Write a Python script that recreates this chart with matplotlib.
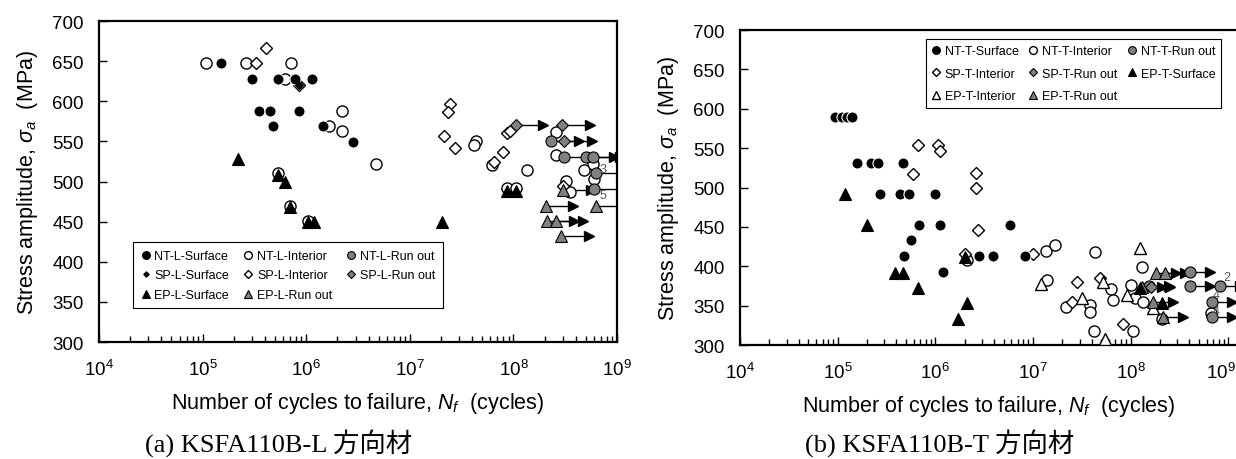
import numpy as np
import matplotlib
matplotlib.use('Agg')
import matplotlib.pyplot as plt
from matplotlib.lines import Line2D
from matplotlib.ticker import LogLocator, LogFormatterMathtext, MultipleLocator
import matplotlib.transforms as mtransforms

plt.rcParams['font.family'] = ['Liberation Sans', 'DejaVu Sans']
plt.rcParams['mathtext.fontset'] = 'custom'
plt.rcParams['mathtext.rm'] = 'Liberation Sans'
plt.rcParams['mathtext.it'] = 'Liberation Sans:italic'

# ---- (a) L direction data : cycles N, stress S (MPa)
L_nt_surf_N = [1.5e5, 3.0e5, 5.4e5, 7.8e5, 1.13e6, 3.5e5, 4.5e5, 8.5e5, 4.8e5, 1.45e6, 2.8e6]
L_nt_surf_S = [648, 628, 628, 628, 628, 588, 588, 588, 569, 569, 549]
L_nt_int_N = [1.07e5, 2.6e5, 7.2e5, 6.3e5, 1.65e6, 2.2e6, 2.2e6, 4.7e6, 4.4e7, 4.2e7,
              6.2e7, 1.35e8, 2.6e8, 2.6e8, 5.8e8, 4.8e8, 6.0e8, 3.2e8, 3.5e8,
              5.3e5, 7.0e5, 1.05e6, 8.7e7, 1.05e8]
L_nt_int_S = [648, 648, 648, 628, 569, 588, 563, 522, 551, 545,
              521, 514, 562, 533, 522, 514, 503, 501, 487,
              511, 470, 451, 492, 492]
L_nt_run_N = [2.3e8, 3.1e8, 5.0e8, 5.8e8, 6.3e8, 6.0e8]
L_nt_run_S = [550, 530, 530, 530, 511, 491]
L_sp_surf_N = [8.5e5]
L_sp_surf_S = [620]
L_sp_int_N = [4.1e5, 3.3e5, 8.5e5, 2.45e7, 2.36e7, 2.15e7, 2.75e7, 7.9e7, 6.5e7, 8.6e7, 9.2e7, 3.0e8]
L_sp_int_S = [667, 648, 620, 597, 587, 557, 542, 537, 524, 561, 563, 495]
L_sp_run_N = [1.05e8, 2.95e8, 3.1e8]
L_sp_run_S = [570, 570, 550]
L_ep_surf_N = [2.2e5, 5.3e5, 6.3e5, 7.0e5, 1.05e6, 1.2e6, 2.05e7, 8.7e7, 1.05e8]
L_ep_surf_S = [528, 508, 499, 468, 450, 450, 449, 488, 488]
L_ep_run_N = [3.0e8, 2.05e8, 6.3e8, 2.1e8, 2.55e8, 2.9e8]
L_ep_run_S = [490, 469, 469, 451, 451, 432]
L_notes = [('3', 6.8e8, 515), ('5', 6.8e8, 483)]

# ---- (b) T direction data
T_nt_surf_N = [9.4e4, 1.1e5, 1.24e5, 1.41e5, 1.59e5, 2.2e5, 2.57e5, 4.7e5, 2.7e5, 4.4e5,
               5.4e5, 9.9e5, 6.8e5, 1.12e6, 5.8e6, 5.6e5, 4.8e5, 2.8e6, 3.9e6, 8.3e6, 1.2e6]
T_nt_surf_S = [589, 589, 589, 589, 531, 531, 531, 531, 492, 492,
               492, 492, 452, 452, 452, 433, 413, 413, 413, 413, 393]
T_nt_int_N = [2.1e6, 1.36e7, 1.7e7, 4.3e7, 1.3e8, 1.4e7, 6.3e7, 6.6e7, 1.02e8, 1.1e8,
              1.35e8, 2.2e7, 3.8e7, 3.8e7, 2.1e8, 6.6e8, 4.2e7, 1.05e8]
T_nt_int_S = [408, 420, 427, 418, 399, 382, 371, 357, 376, 360,
              354, 348, 351, 342, 333, 341, 318, 318]
T_nt_run_N = [4.1e8, 4.1e8, 8.3e8, 6.9e8, 6.9e8, 1.55e8]
T_nt_run_S = [393, 375, 375, 355, 335, 375]
T_sp_int_N = [6.7e5, 1.07e6, 1.13e6, 5.9e5, 2.6e6, 2.6e6, 2.77e6, 2.0e6, 1.0e7, 2.8e7, 2.5e7, 4.9e7, 8.3e7]
T_sp_int_S = [554, 554, 546, 517, 518, 499, 446, 416, 416, 380, 354, 385, 327]
T_sp_run_N = [1.6e8]
T_sp_run_S = [374]
T_ep_surf_N = [1.2e5, 2.0e5, 3.9e5, 4.65e5, 6.7e5, 2.0e6, 2.1e6, 1.7e6, 1.26e8, 2.1e8]
T_ep_surf_S = [492, 452, 391, 391, 372, 412, 353, 333, 373, 353]
T_ep_int_N = [1.2e7, 3.2e7, 5.2e7, 9.1e7, 1.26e8, 1.7e8, 5.5e7]
T_ep_int_S = [378, 360, 380, 363, 423, 347, 308]
T_ep_run_N = [1.83e8, 2.27e8, 1.3e8, 1.7e8, 2.15e8]
T_ep_run_S = [392, 392, 374, 354, 335]
T_notes = [('2', 9.0e8, 386), ('4', 7.0e8, 364), ('4', 7.0e8, 343)]

GRAY = '#808080'
circ_f = dict(marker='o', ms=8, mfc='k', mec='white', mew=0.8)
circ_o = dict(marker='o', ms=8, mfc='white', mec='k', mew=1.0)
circ_g = dict(marker='o', ms=8, mfc=GRAY, mec='k', mew=0.8)
diam_f = dict(marker='D', ms=4, mfc='k', mec='k', mew=0.8)
diam_o = dict(marker='D', ms=6, mfc='white', mec='k', mew=1.0)
diam_g = dict(marker='D', ms=6, mfc=GRAY, mec='k', mew=0.8)
tri_f = dict(marker='^', ms=8, mfc='k', mec='k', mew=0.8)
tri_o = dict(marker='^', ms=8, mfc='white', mec='k', mew=1.0)
tri_g = dict(marker='^', ms=8, mfc=GRAY, mec='k', mew=0.8)


def runout_arrows(ax, N, S, factor):
    for n, s in zip(N, S):
        ax.plot([n, n * factor], [s, s], color='k', lw=1.0, zorder=1)
        ax.plot([n * factor], [s], marker='>', ms=7, color='k', zorder=1)


def setup(ax, xmax):
    ax.set_xscale('log')
    ax.set_xlim(1e4, xmax)
    ax.set_ylim(300, 700)
    ax.yaxis.set_major_locator(MultipleLocator(50))
    ax.set_xticks([1e4, 1e5, 1e6, 1e7, 1e8, 1e9])
    ax.xaxis.set_minor_locator(LogLocator(base=10, subs=np.arange(2, 10), numticks=20))
    ax.xaxis.set_major_formatter(LogFormatterMathtext())
    ax.tick_params(which='both', direction='in', labelsize=13.5)
    ax.tick_params(axis='x', pad=12)
    ax.tick_params(axis='y', pad=11)
    ax.tick_params(which='major', length=6, width=1.0)
    ax.tick_params(which='minor', length=4, width=1.0)
    ax.tick_params(axis='y', which='both', right=False)
    for sp in ax.spines.values():
        sp.set_linewidth(1.6)
    ax.set_xlabel(r'Number of cycles to failure, $N_f$  (cycles)', fontsize=15.5, labelpad=8)
    ax.set_ylabel(r'Stress amplitude, $\sigma_a$  (MPa)', fontsize=15.5, labelpad=9)


def draw(ax, series, runs, notes, factor):
    for N, S, st, z in series:
        ax.plot(N, S, ls='none', zorder=z, **st)
    for N, S in runs:
        runout_arrows(ax, N, S, factor)
    for txt, n, s in notes:
        ax.text(n, s, txt, fontsize=9, color='#555555', va='center', zorder=5)


def handle(st, label):
    st = dict(st)
    st['ms'] = st['ms'] * 0.7
    if st['mec'] == 'white':
        st['mec'] = 'k'
    return Line2D([], [], ls='none', label=label, **st)


fig = plt.figure(figsize=(12.36, 4.6), dpi=100)
ax1 = fig.add_axes([0.0801, 0.2543, 0.4191, 0.6978])
ax2 = fig.add_axes([0.5987, 0.2478, 0.4029, 0.6848])

# (a) L direction
setup(ax1, 1e9)
draw(ax1,
     [(L_nt_int_N, L_nt_int_S, circ_o, 3), (L_sp_int_N, L_sp_int_S, diam_o, 3),
      (L_ep_surf_N, L_ep_surf_S, tri_f, 3), (L_nt_surf_N, L_nt_surf_S, circ_f, 4),
      (L_sp_surf_N, L_sp_surf_S, diam_f, 5), (L_nt_run_N, L_nt_run_S, circ_g, 4),
      (L_sp_run_N, L_sp_run_S, diam_g, 4), (L_ep_run_N, L_ep_run_S, tri_g, 4)],
     [(L_nt_run_N, L_nt_run_S), (L_sp_run_N, L_sp_run_S), (L_ep_run_N, L_ep_run_S)],
     L_notes, 1.85)
h1 = [handle(circ_f, 'NT-L-Surface'), handle(diam_f, 'SP-L-Surface'), handle(tri_f, 'EP-L-Surface'),
      handle(circ_o, 'NT-L-Interior'), handle(diam_o, 'SP-L-Interior'), handle(tri_g, 'EP-L-Run out'),
      handle(circ_g, 'NT-L-Run out'), handle(diam_g, 'SP-L-Run out')]
leg1 = ax1.legend(handles=h1, ncol=3, loc='lower left', bbox_to_anchor=(0.054, 0.085, 0.622, 0.203),
                  mode='expand', fontsize=9, handlelength=0.8, handletextpad=0.3,
                  columnspacing=0.8, labelspacing=0.6, borderpad=0.6, fancybox=False,
                  edgecolor='k', framealpha=1)
leg1.get_frame().set_linewidth(0.8)

# (b) T direction - the plot area runs slightly past the right edge of the image
setup(ax2, 10 ** 9.1)
draw(ax2,
     [(T_nt_int_N, T_nt_int_S, circ_o, 3), (T_sp_int_N, T_sp_int_S, diam_o, 3),
      (T_ep_int_N, T_ep_int_S, tri_o, 3), (T_nt_surf_N, T_nt_surf_S, circ_f, 4),
      (T_ep_surf_N, T_ep_surf_S, tri_f, 5), (T_nt_run_N, T_nt_run_S, circ_g, 4),
      (T_sp_run_N, T_sp_run_S, diam_g, 4), (T_ep_run_N, T_ep_run_S, tri_g, 4)],
     [(T_nt_run_N, T_nt_run_S), (T_sp_run_N, T_sp_run_S), (T_ep_run_N, T_ep_run_S)],
     T_notes, 1.6)
h2 = [handle(circ_f, 'NT-T-Surface'), handle(diam_o, 'SP-T-Interior'), handle(tri_o, 'EP-T-Interior'),
      handle(circ_o, 'NT-T-Interior'), handle(diam_g, 'SP-T-Run out'), handle(tri_g, 'EP-T-Run out'),
      handle(circ_g, 'NT-T-Run out'), handle(tri_f, 'EP-T-Surface')]
leg2 = ax2.legend(handles=h2, ncol=3, loc='upper right', bbox_to_anchor=(0.36, 0.75, 0.618, 0.24),
                  mode='expand', fontsize=9, handlelength=0.8, handletextpad=0.3,
                  columnspacing=0.8, labelspacing=0.85, borderpad=0.45, fancybox=False,
                  edgecolor='k', framealpha=1)
leg2.get_frame().set_linewidth(0.8)

# keep the last tick label inside the image
last = ax2.xaxis.get_major_ticks()[-1].label1
last.set_horizontalalignment('right')
last.set_transform(last.get_transform() + mtransforms.ScaledTranslation(8 / 100, 0, fig.dpi_scale_trans))

# captions
cap_font = ['Liberation Serif', 'Noto Sans CJK JP']
fig.text(0.225, 0.038, '(a) KSFA110B-L 方向材', fontsize=19, family=cap_font, ha='center', va='center')
fig.text(0.760, 0.038, '(b) KSFA110B-T 方向材', fontsize=19, family=cap_font, ha='center', va='center')

fig.savefig('out.png', dpi=100)
